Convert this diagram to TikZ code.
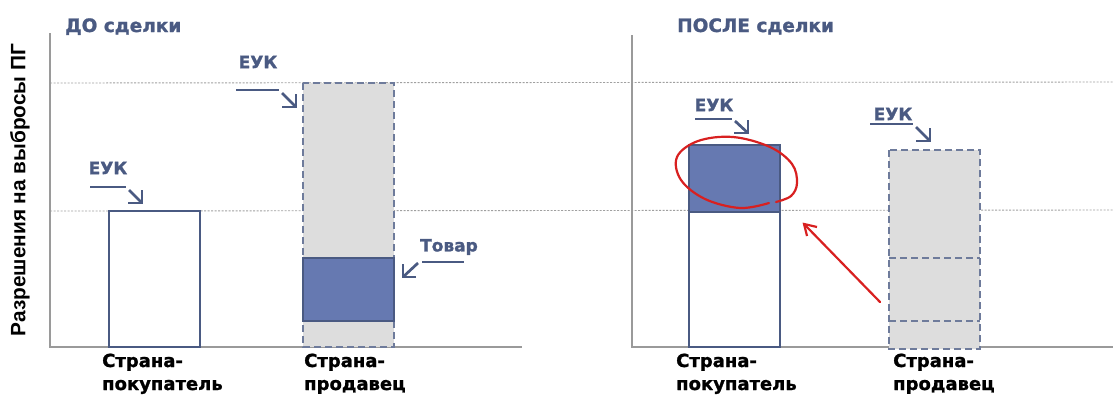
\documentclass[tikz,border=0pt]{standalone}
\usepackage{fontspec}
\setmainfont{DejaVu Sans}[BoldFeatures={FakeBold=1.2}]
\newfontfamily\arialb{Liberation Sans}
\usetikzlibrary{arrows.meta}
\definecolor{navy}{HTML}{4A5A82}
\definecolor{bfill}{HTML}{6679B1}
\definecolor{gfill}{HTML}{DDDDDD}
\definecolor{axisc}{HTML}{9A9A9A}
\definecolor{gridc}{HTML}{A0A0A0}
\definecolor{redc}{HTML}{D82020}
\tikzset{
  axisline/.style={draw=axisc,line width=1.3pt},
  gridline/.style={draw=gridc,line width=0.9pt,dash pattern=on 2pt off 1.5pt},
  whitebar/.style={draw=navy,line width=1.2pt,fill=white},
  bluebar/.style={draw=navy,line width=1.2pt,fill=bfill},
  graybar/.style={draw=navy!80,line width=1.5pt,fill=gfill,dash pattern=on 7pt off 4pt},
  innerdash/.style={draw=navy!80,line width=1.5pt,dash pattern=on 7pt off 4pt},
  ptrline/.style={draw=navy,line width=2.7pt},
  ptrhead/.style={draw=navy,line width=2.7pt,line join=miter},
  lbl/.style={text=navy,font=\fontsize{17}{20}\selectfont\bfseries,inner sep=0pt},
  title/.style={text=navy,font=\fontsize{18.5}{21}\selectfont\bfseries,inner sep=0pt},
  cat/.style={text=black,font=\fontsize{18}{23}\selectfont\bfseries,align=left,inner sep=0pt},
  redline/.style={draw=redc,line width=2.2pt,line cap=round},
}
\begin{document}
\begin{tikzpicture}[x=1pt,y=-1pt]
\useasboundingbox (0,0) rectangle (1113,394);
% grid lines
\draw[gridline] (50,83) -- (1113,82);
\draw[gridline] (50,211) -- (1113,210);
% axes
\draw[axisline] (50,33) -- (50,347) -- (522,347);
\draw[axisline] (632,35) -- (632,347) -- (1113,347);
% y label
\node[rotate=90,font=\arialb\fontsize{20.8}{24}\selectfont\bfseries,inner sep=0pt] (ylab) at (20,190) {Разрешения на выбросы ПГ};
% titles
\node[title,anchor=base west] (t1) at (65,32) {ДО сделки};
\node[title,anchor=base west] (t2) at (677,32) {ПОСЛЕ сделки};
% left panel bars
\draw[whitebar] (109,211) rectangle (200,347);
\draw[graybar] (303,83) rectangle (394,347);
\draw[bluebar] (303,258) rectangle (394,321);
% right panel bars
\draw[whitebar] (689,212) rectangle (780,347);
\draw[bluebar] (689,145) rectangle (780,212);
\draw[graybar] (889,150) rectangle (980,349);
\draw[innerdash] (889,258) -- (980,258);
\draw[innerdash] (889,321) -- (980,321);
% pointer labels
\node[lbl] (e1) at (108,168) {ЕУК};
\coordinate (e1a) at (90,187); \coordinate (e1b) at (126,187);
\draw[ptrline] (e1a) -- (e1b);
\coordinate (e1c) at (129,190); \coordinate (e1d) at (142,203);
\draw[ptrline] (e1c) -- (e1d);
\draw[ptrhead] (e1d) ++(-14,0) -- (e1d) -- ++(0,-13);

\node[lbl] (e2) at (258,62) {ЕУК};
\coordinate (e2a) at (236,90); \coordinate (e2b) at (279,90);
\draw[ptrline] (e2a) -- (e2b);
\coordinate (e2c) at (282,93); \coordinate (e2d) at (296,107);
\draw[ptrline] (e2c) -- (e2d);
\draw[ptrhead] (e2d) ++(-14,0) -- (e2d) -- ++(0,-13);

\node[lbl] (tv) at (449,247) {Товар};
\coordinate (tva) at (422,262); \coordinate (tvb) at (464,262);
\draw[ptrline] (tva) -- (tvb);
\coordinate (tvc) at (418,263); \coordinate (tvd) at (403,277);
\draw[ptrline] (tvc) -- (tvd);
\draw[ptrhead] (tvd) ++(13,0) -- (tvd) -- ++(0,-13);

\node[lbl] (e3) at (714,105) {ЕУК};
\coordinate (e3a) at (695,119); \coordinate (e3b) at (732,119);
\draw[ptrline] (e3a) -- (e3b);
\coordinate (e3c) at (735,121); \coordinate (e3d) at (748,133);
\draw[ptrline] (e3c) -- (e3d);
\draw[ptrhead] (e3d) ++(-14,0) -- (e3d) -- ++(0,-13);

\node[lbl] (e4) at (893,114) {ЕУК};
\coordinate (e4a) at (870,124); \coordinate (e4b) at (913,124);
\draw[ptrline] (e4a) -- (e4b);
\coordinate (e4c) at (916,127); \coordinate (e4d) at (930,141);
\draw[ptrline] (e4c) -- (e4d);
\draw[ptrhead] (e4d) ++(-14,0) -- (e4d) -- ++(0,-13);
% category labels
\node[cat,anchor=base west] (c1) at (102,390) {Страна-\\покупатель};
\node[cat,anchor=base west] (c2) at (304,390) {Страна-\\продавец};
\node[cat,anchor=base west] (c3) at (676,390) {Страна-\\покупатель};
\node[cat,anchor=base west] (c4) at (893,390) {Страна-\\продавец};
% red ellipse
\draw[redline] plot[smooth,tension=0.6] coordinates {(769,203) (740,208) (705,199) (681,180) (677,157) (698,141) (733,137) (770,147) (792,164) (797,183) (791,196) (776,202)};
% red arrow
\coordinate (ra) at (880,302); \coordinate (rb) at (804,224);
\draw[redline] (ra) -- (rb);
\draw[redline,line join=miter,line cap=butt] (817,227) -- (rb) -- (807,236);
\end{tikzpicture}
\end{document}
